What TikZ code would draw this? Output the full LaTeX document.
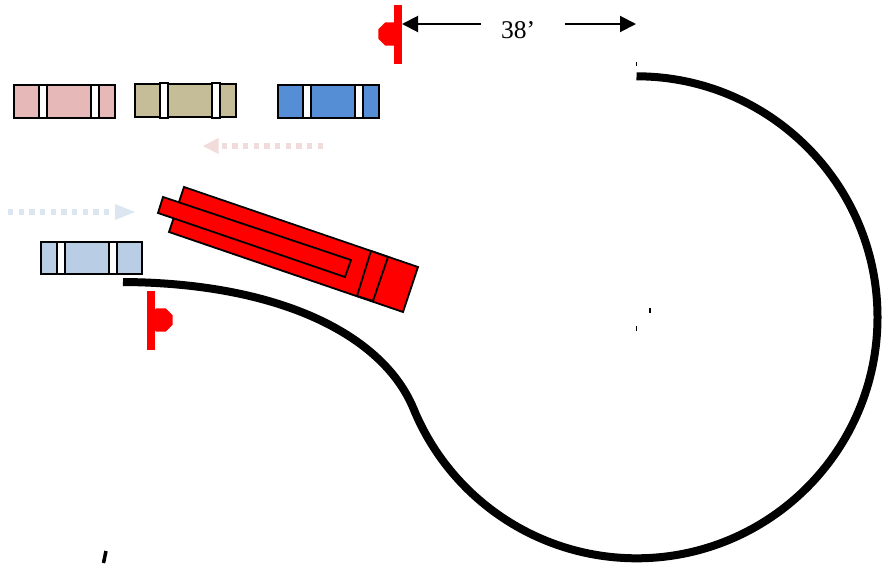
\documentclass[tikz,border=0pt]{standalone}
\usepackage{fontspec}
\setmainfont{Liberation Serif}
\usetikzlibrary{arrows.meta,shapes.geometric}
\definecolor{carpink}{HTML}{E6B8B7}
\definecolor{cartan}{HTML}{C4BD97}
\definecolor{carblue}{HTML}{558ED5}
\definecolor{carpale}{HTML}{B9CDE5}
\definecolor{dotpink}{HTML}{F2DCDB}
\definecolor{dotblue}{HTML}{DCE6F1}
\tikzset{
  carbody/.style={draw=black,line width=2pt},
  carband/.style={draw=black,line width=2pt,fill=white},
  truck/.style={draw=black,line width=1.8pt,fill=red,line join=miter},
  track/.style={draw=black,line width=8pt},
  post/.style={draw=red,line width=8pt},
  lamp/.style={regular polygon,regular polygon sides=8,fill=red,minimum size=25pt,inner sep=0pt},
  dim/.style={draw=black,line width=2pt,-{Triangle[length=16pt,width=16pt]}},
  flowpink/.style={draw=dotpink,line width=5.5pt,dash pattern=on 5.3pt off 5.37pt},
  flowblue/.style={draw=dotblue,line width=5.5pt,dash pattern=on 5.3pt off 5.37pt},
  tick/.style={draw=black,line width=1.6pt}
}
% x, y, band overhang, colour, first band offset, second band offset
\newcommand{\parkedcar}[6]{%
  \fill[#4] (#1,#2) rectangle ++(101,32.5);
  \draw[carbody] (#1,#2) rectangle ++(101,32.5);
  \draw[carband] (#1+#5,#2+#3) rectangle ++(8,32.5-2*#3);
  \draw[carband] (#1+#6,#2+#3) rectangle ++(8,32.5-2*#3);
}
\begin{document}
\begin{tikzpicture}[x=1pt,y=-1pt]
\useasboundingbox (0,0) rectangle (889,563);
% cars
\parkedcar{14}{85}{0}{carpink}{25}{77}
\parkedcar{135}{84}{-1}{cartan}{25}{77}
\parkedcar{278}{85}{0}{carblue}{25}{77}
\parkedcar{41}{241.5}{0}{carpale}{16}{68}
% flow arrows
\coordinate (pinkstart) at (323,146);
\coordinate (pinkend) at (220,146);
\draw[flowpink] (pinkstart) -- (pinkend);
\fill[dotpink] (218.5,138) -- (218.5,154) -- (203,146) -- cycle;
\coordinate (bluestart) at (8,212);
\coordinate (blueend) at (112,212);
\draw[flowblue] (bluestart) -- (blueend);
\fill[dotblue] (115,204) -- (115,220) -- (135,212) -- cycle;
% track
\draw[track,line cap=butt,line join=round] (636.5,76.3) arc[start angle=-90,end angle=157.7,radius=241] .. controls (383,335) and (280,283) .. (123,282);
% truck
\draw[truck] (184,187) -- (418,267) -- (403,312) -- (169,232) -- cycle;
\draw[truck] (371,251) -- (388,257) -- (373,301) -- (357,296) -- cycle;
\draw[truck] (163,197) -- (351,260) -- (345,277) -- (158,213) -- cycle;
% signals
\draw[post] (398,5) -- (398,64);
\node[lamp] (lampa) at (390,34) {};
\draw[post] (151,291) -- (151,350);
\node[lamp] (lampb) at (161,320) {};
% dimension
\node[font=\fontsize{25.5pt}{28pt}\selectfont] (dimtext) at (518,30) {38’};
\coordinate (dimleft) at (402,24);
\coordinate (dimright) at (636,24);
\coordinate (dimla) at (481,24);
\coordinate (dimra) at (565,24);
\draw[dim] (dimla) -- (dimleft);
\draw[dim] (dimra) -- (dimright);
% stray marks
\draw[tick,line width=1pt] (636.5,62) -- (636.5,66);
\draw[tick] (650,308) -- (650,312.5);
\draw[tick] (636.5,326) -- (636.5,331);
\draw[tick,line width=3.5pt] (106,551) -- (103.5,563);
\end{tikzpicture}
\end{document}
